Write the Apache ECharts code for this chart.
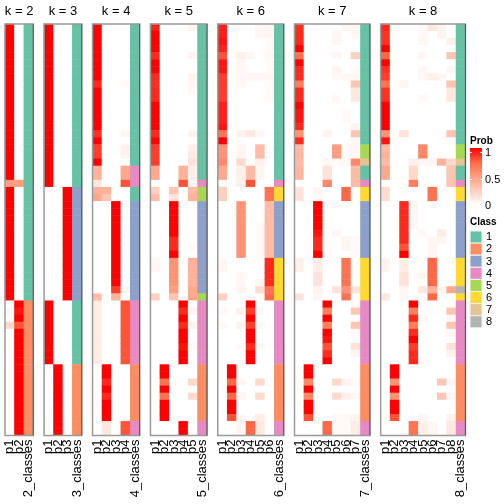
<!DOCTYPE html>
<html><head><meta charset="utf-8">
<script src="https://cdn.jsdelivr.net/npm/echarts@6/dist/echarts.min.js"></script>
<style>html,body{margin:0;padding:0;background:#fff}#c{width:504px;height:504px}</style>
</head><body><div id="c"></div>
<script>
const kList = [2,3,4,5,6,7,8];
const classColors = ['#66C2A5','#FC8D62','#8DA0CB','#E78AC3','#A6D854','#FFD92F','#E5C494','#B3B3B3'];
const classNames = ['1','2','3','4','5','6','7','8'];
const probTicks = [1, 0.5, 0];
const probTickLabels = ['1','0.5','0'];

// ---- k = 2 ----
const k2_class = [1,1,1,1,1,1,1,1,1,1, 1,1,1,1,1,1,1,1,1,1, 1,1,1,1,1,1,1,1,1,1, 1,1,1,1,1,1,1,1,1,2, 2,2,2,2,2,2,2,2,2,2, 2,2,2,2,2,2,2,2];
const k2_p1 = [1,1,1,1,1,1,1,1,1,1, 1,1,1,1,1,1,1,1,1,1, 1,1,0.5,1,1,1,1,1,1,1, 1,1,1,1,1,1,1,1,1,0, 0.03,0,0.2,0,0,0,0,0,0,0, 0,0,0,0,0,0,0,0];
const k2_p2 = [0,0,0,0,0,0,0,0,0,0, 0,0,0,0,0,0,0,0,0,0, 0,0,0.5,0,0,0,0,0,0,0, 0,0,0,0,0,0,0,0,0,1, 0.95,1,0.8,1,1,1,1,1,1,1, 1,1,1,1,1,1,1,1];

// ---- k = 3 ----
const k3_class = [1,1,1,1,1,1,1,1,1,1, 1,1,1,1,1,1,1,1,1,1, 1,1,1,3,3,3,3,3,3,3, 3,3,3,3,3,3,3,3,3,1, 1,1,1,1,1,1,1,1,2,2, 2,2,2,2,2,2,2,2];
const k3_p1 = [1,1,1,1,1,1,1,1,1,1, 1,1,1,1,1,1,1,1,1,1, 1,1,1,0,0,0,0,0,0,0, 0,0,0,0,0,0,0,0,0,1, 1,1,1,1,1,1,1,1,0,0, 0,0,0,0,0,0,0,0];
const k3_p2 = [0,0,0,0,0,0,0,0,0,0, 0,0,0,0,0,0,0,0,0,0, 0,0,0,0,0,0,0,0,0,0, 0,0,0,0,0,0,0,0,0,0, 0,0,0,0,0,0,0,0,1,1, 1,1,1,1,1,1,1,1];
const k3_p3 = [0,0,0,0,0,0,0,0,0,0, 0,0,0,0,0,0,0,0,0,0, 0,0,0,1,1,1,1,1,1,1, 1,1,1,1,1,1,1,1,1,0, 0,0,0,0,0,0,0,0,0,0, 0,0,0,0,0,0,0,0];

// ---- k = 4 ----
const k4_class = [1,1,1,1,1,1,1,1,1,1, 1,1,1,1,1,1,1,1,1,1, 4,4,4,1,1,3,3,3,3,3, 3,3,3,3,3,3,3,3,3,4, 4,4,4,4,4,4,4,4,2,2, 2,2,2,2,2,2,4,4];
const k4_p1 = [1,1,1,1,1,1,1,1,0.9,1, 1,1,1,1,1,0.88,1,0.85,0.85,1, 0.4,0.4,0.12,0.4,0.45,0,0,0,0,0, 0,0,0,0,0,0,0,0,0.35,0.1, 0.1,0.1,0.1,0.1,0.1,0.1,0.1,0.1,0,0, 0,0,0,0,0,0,0,0];
const k4_p2 = [0,0,0,0,0,0,0,0,0,0, 0,0,0,0,0,0,0,0,0,0, 0,0,0,0.4,0.3,0,0,0,0,0, 0,0,0,0,0,0,0,0,0,0, 0,0,0,0,0,0,0,0,1,1, 0.9,1,0.9,1,1,1,0.12,0.12];
const k4_p3 = [0,0,0,0,0,0,0,0,0,0, 0,0,0,0,0,0,0,0,0,0, 0,0,0,0,0,1,1,1,1,1, 1,1,1,1,1,1,1,0.85,0.4,0, 0,0,0,0,0,0,0,0,0,0, 0,0,0,0,0,0,0,0];
const k4_p4 = [0,0,0,0,0,0,0,0,0.03,0, 0,0,0,0,0,0.05,0,0.06,0.06,0, 0.45,0.45,0.8,0,0,0,0,0,0,0, 0,0,0,0,0,0,0,0.05,0,0.8, 0.8,0.8,0.8,0.8,0.8,0.8,0.8,0.8,0,0, 0,0,0,0,0,0,0.8,0.8];

// ---- k = 5 ----
const k5_class = [1,1,1,1,1,1,1,1,1,1, 1,1,1,1,1,1,1,1,1,1, 1,1,4,5,5,3,3,3,3,3, 3,3,3,3,3,3,3,3,5,4, 4,4,4,4,4,4,4,4,2,2, 2,2,2,2,2,2,4,4];
const k5_p1 = [0.92,1,1,1,0.9,1,1,0.9,0.88,0.9, 0.9,1,1,1,1,0.9,1,0.85,0.85,0.85, 0.45,0.45,0,0.25,0.35,0,0,0,0,0, 0,0,0,0.04,0.04,0,0,0,0.25,0, 0,0,0,0,0,0,0,0,0,0, 0,0,0,0,0,0,0,0];
const k5_p2 = [0,0,0,0,0,0,0,0,0,0, 0,0,0,0,0,0,0,0,0,0, 0,0,0,0,0,0,0,0,0,0, 0,0,0,0,0,0,0,0,0,0, 0,0,0,0,0,0,0,0,1,1, 0.7,1,0.7,1,1,1,0,0];
const k5_p3 = [0,0,0,0,0,0,0,0,0,0, 0,0,0,0,0,0,0,0,0,0, 0,0,0,0.3,0.15,1,1,1,1,1, 0.9,0.9,1,0.55,0.55,0.55,0.55,0.5,0.3,0, 0,0,0,0,0,0,0,0,0,0, 0,0,0,0,0,0,0,0];
const k5_p4 = [0,0,0,0,0,0,0,0,0,0, 0,0,0,0,0,0,0,0,0,0, 0.4,0.4,0.8,0,0,0,0,0,0,0, 0,0,0,0,0,0,0,0,0,1, 0.9,1,0.9,1,1,0.95,1,1,0,0, 0,0,0,0,0,0,1,1];
const k5_p5 = [0.05,0,0,0,0.05,0,0,0.06,0.04,0.03, 0,0,0,0,0,0.06,0,0.08,0.1,0.15, 0.08,0.08,0.05,0.35,0.4,0,0,0,0,0, 0,0.03,0,0.4,0.4,0.4,0.4,0.45,0.45,0, 0.06,0,0.06,0,0,0.02,0,0,0,0, 0.2,0,0.2,0,0,0,0,0];

// ---- k = 6 ----
const k6_class = [1,1,1,1,1,1,1,1,1,1, 1,1,1,1,1,1,1,1,1,1, 1,1,4,6,6,3,3,3,3,3, 3,3,3,6,6,6,6,6,6,4, 4,4,4,4,4,4,4,4,2,2, 2,2,2,2,2,2,4,4];
const k6_p1 = [0.92,0.92,0.95,0.92,0.8,0.95,0.95,0.85,0.85,0.85, 0.85,0.92,0.92,0.92,0.95,0.7,1,0.55,0.55,0.6, 0.45,0.45,0.03,0.25,0.25,0,0,0,0,0, 0,0,0,0.04,0.04,0,0,0,0.25,0, 0.03,0,0.03,0,0,0,0,0,0,0, 0,0,0,0,0,0,0,0];
const k6_p2 = [0,0,0,0,0,0,0,0,0,0, 0,0,0,0,0,0,0,0,0,0, 0,0,0,0,0,0,0,0,0,0, 0,0,0,0,0,0,0,0,0,0, 0,0,0,0,0,0,0,0,1,1, 0.75,1,0.75,1,1,0.8,0,0];
const k6_p3 = [0,0,0,0,0.08,0.04,0.04,0.04,0.04,0, 0,0,0,0,0,0.06,0,0.05,0.05,0.2, 0.08,0.08,0.08,0,0,0.55,0.55,0.55,0.55,0.55, 0.55,0.55,0.55,0,0,0.04,0.04,0.06,0,0, 0.07,0,0.07,0,0,0.03,0,0,0,0, 0.05,0,0.05,0,0,0.04,0.05,0.05];
const k6_p4 = [0,0,0,0,0.04,0,0,0.04,0,0, 0,0,0,0,0,0.12,0,0,0,0, 0.35,0.35,0.8,0,0,0,0,0,0,0, 0,0,0,0,0,0,0,0,0,1, 0.85,1,0.85,1,1,0.9,1,1,0,0, 0,0,0,0,0,0,0.75,0.75];
const k6_p5 = [0.04,0.04,0,0,0,0,0,0.05,0,0, 0,0,0,0,0,0.04,0,0.35,0.35,0.08, 0.05,0.05,0,0,0,0,0,0,0.03,0.03, 0.03,0.03,0.03,0,0,0,0.05,0.18,0,0, 0.04,0,0.04,0,0,0.04,0,0,0,0, 0.2,0,0.2,0,0,0.1,0.12,0.12];
const k6_p6 = [0.05,0.05,0.03,0.03,0.04,0.03,0.03,0.04,0.03,0.03, 0.03,0,0,0,0,0,0,0,0,0, 0,0,0,0.7,0.7,0.35,0.35,0.35,0.35,0.35, 0.35,0.35,0.35,0.9,0.9,0.9,0.9,0.7,0.75,0, 0,0,0,0,0,0,0,0,0,0, 0,0,0,0,0,0,0,0];

// ---- k = 7 ----
const k7_class = [1,1,1,1,1,1,1,1,1,1, 1,1,1,1,1,1,1,5,5,7, 1,1,4,6,6,3,3,3,3,3, 3,3,3,6,6,6,6,6,6,4, 4,4,4,4,4,4,4,4,2,2, 2,2,2,2,2,2,4,4];
const k7_p1 = [0.88,0.9,0.9,1,0.7,1,0.9,0.9,0.65,0.9, 0.9,1,0.95,0.95,0.9,0.55,0.9,0.35,0.38,0.35, 0.38,0.38,0,0.15,0.15,0,0,0,0,0, 0,0,0,0.08,0.08,0,0,0,0.15,0, 0,0,0,0,0,0,0,0,0,0, 0,0,0,0,0,0,0,0];
const k7_p2 = [0,0,0,0,0,0,0,0,0,0, 0,0,0,0,0,0,0,0,0,0, 0,0,0,0,0,0,0,0,0,0, 0,0,0,0,0,0,0,0,0,0, 0,0,0,0,0,0,0,0,1,1, 0.6,1,0.6,1,1,0.8,0,0];
const k7_p3 = [0,0,0,0,0,0,0,0,0,0, 0,0,0,0,0,0,0,0,0,0, 0,0,0,0.05,0.03,1,1,1,1,0.95, 0.9,0.9,1,0.1,0.1,0.15,0.15,0.06,0.04,0, 0,0,0,0,0,0,0,0,0,0, 0,0,0,0,0,0,0,0];
const k7_p4 = [0,0,0,0,0,0,0,0,0,0, 0,0,0,0,0,0.06,0,0,0,0.04, 0.15,0.15,0.6,0,0,0,0,0,0,0, 0,0,0,0,0,0,0,0,0,1, 0.65,1,0.65,1,0.95,0.8,0.9,1,0,0, 0,0,0,0,0,0,0.75,0.75];
const k7_p5 = [0,0.04,0.05,0,0.04,0,0.05,0.03,0,0, 0.03,0,0,0,0,0,0,0.5,0.5,0.03, 0,0,0,0,0,0.03,0,0,0,0.04, 0,0,0,0,0,0,0,0.15,0,0, 0,0,0,0,0,0,0,0,0,0, 0.2,0,0.2,0,0,0.03,0.03,0.03];
const k7_p6 = [0.05,0,0,0,0,0,0,0.04,0,0, 0,0,0.03,0.03,0,0,0,0.03,0.03,0.04, 0,0,0,0.75,0.75,0,0,0,0,0, 0.05,0.05,0,0.7,0.7,0.7,0.7,0.55,0.7,0, 0,0,0,0,0,0,0,0,0,0, 0.06,0,0.08,0,0,0.03,0.03,0.03];
const k7_p7 = [0.05,0.04,0,0,0.25,0,0.03,0.04,0.3,0.12, 0.12,0,0,0,0.05,0.3,0.04,0.04,0.04,0.6, 0.35,0.35,0.35,0,0,0,0,0,0,0, 0.03,0.03,0.03,0,0,0,0,0.15,0,0.03, 0.3,0,0.3,0.03,0,0.15,0.05,0,0,0, 0.03,0,0.04,0,0,0.06,0.1,0.1];

// ---- k = 8 ----
const k8_class = [1,1,1,1,1,1,1,1,1,1, 1,1,1,1,1,1,1,5,5,7, 1,1,4,6,6,3,3,3,3,3, 3,3,3,6,6,6,6,8,6,4, 4,4,4,4,4,4,4,4,2,2, 2,2,2,2,2,2,4,4];
const k8_p1 = [0.9,0.88,0.88,1,0.75,1,0.88,0.85,0.7,0.88, 0.88,1,1,1,1,0.55,0.95,0.35,0.4,0.35, 0.45,0.45,0,0.18,0.18,0,0,0,0,0, 0,0,0,0.06,0.06,0,0,0,0.12,0, 0,0,0,0,0,0,0,0,0,0, 0,0,0,0,0,0,0,0];
const k8_p2 = [0,0,0,0,0,0,0,0,0,0, 0,0,0,0,0,0,0,0,0,0, 0,0,0,0,0,0,0,0,0,0, 0,0,0,0,0,0,0,0,0,0, 0,0,0,0,0,0,0,0,1,1, 0.55,1,0.55,1,1,0.8,0,0];
const k8_p3 = [0,0,0,0,0,0,0,0,0.05,0, 0,0,0,0,0,0.15,0,0,0,0, 0,0,0,0.03,0,0.9,0.9,0.9,0.9,0.9, 0.9,0.8,1,0.1,0.1,0.15,0.15,0.04,0.03,0, 0,0,0,0,0,0,0,0,0,0, 0,0,0,0,0,0,0,0];
const k8_p4 = [0,0,0,0,0,0,0,0,0,0, 0,0,0,0,0,0,0,0,0,0.08, 0.2,0.2,0.65,0,0,0.04,0.04,0.04,0.04,0, 0,0,0,0,0,0,0,0,0,1, 0.65,0.9,0.65,0.9,1,0.85,0.9,0.9,0,0, 0,0,0,0,0,0,0.7,0.7];
const k8_p5 = [0.03,0.03,0.04,0,0.04,0,0.04,0.04,0,0, 0.03,0,0,0,0,0,0,0.6,0.6,0.04, 0,0,0,0,0,0,0,0,0,0.03, 0,0,0,0,0,0.05,0,0.12,0,0, 0,0.03,0,0,0,0,0,0.03,0,0, 0,0,0,0,0,0.04,0.08,0.08];
const k8_p6 = [0.12,0,0,0,0,0,0,0.08,0,0, 0,0,0,0,0,0,0,0,0,0.05, 0,0,0,0.7,0.7,0,0,0,0,0, 0.05,0.05,0.04,0.75,0.75,0.75,0.75,0.4,0.75,0, 0,0,0,0,0,0,0,0,0,0, 0,0,0,0,0,0,0.04,0.04];
const k8_p7 = [0.06,0.06,0,0,0,0,0,0.05,0,0, 0,0,0,0,0,0,0,0,0,0.4, 0,0,0,0,0,0,0,0,0,0.1, 0.05,0,0,0,0,0,0,0.05,0,0, 0,0,0,0,0,0,0,0,0,0, 0.3,0,0.3,0,0,0,0,0];
const k8_p8 = [0,0,0.08,0,0.3,0,0.04,0,0.3,0.12, 0.12,0,0,0,0,0.3,0.02,0,0,0.2, 0.3,0.3,0.3,0,0,0,0,0,0,0, 0,0,0,0,0,0,0,0.45,0,0, 0.3,0.04,0.3,0.04,0,0.15,0.06,0,0,0, 0.04,0,0.04,0,0,0.06,0.12,0.12];

const panels = [
  {k:2, probs:[k2_p1,k2_p2], cls:k2_class},
  {k:3, probs:[k3_p1,k3_p2,k3_p3], cls:k3_class},
  {k:4, probs:[k4_p1,k4_p2,k4_p3,k4_p4], cls:k4_class},
  {k:5, probs:[k5_p1,k5_p2,k5_p3,k5_p4,k5_p5], cls:k5_class},
  {k:6, probs:[k6_p1,k6_p2,k6_p3,k6_p4,k6_p5,k6_p6], cls:k6_class},
  {k:7, probs:[k7_p1,k7_p2,k7_p3,k7_p4,k7_p5,k7_p6,k7_p7], cls:k7_class},
  {k:8, probs:[k8_p1,k8_p2,k8_p3,k8_p4,k8_p5,k8_p6,k8_p7,k8_p8], cls:k8_class}
];

// layout
const COLW = 9.42, GAP = 10.8, X0 = 5, TOP = 24, H = 411.5;
const FONT = 'Liberation Sans, Arial, Helvetica, sans-serif';
const nRows = k2_class.length;
const rowIds = k2_class.map((_, i) => 'r' + (i + 1));

const grids = [], xAxes = [], yAxes = [], series = [], graphics = [];
const probIdx = [], clsIdx = [];
let x = X0;
panels.forEach((p, i) => {
  const w = (p.k + 1) * COLW;
  grids.push({left: x, top: TOP, width: w, height: H, containLabel: false});
  const cats = p.probs.map((_, j) => 'p' + (j + 1)).concat([p.k + '_classes']);
  xAxes.push({type: 'category', gridIndex: i, data: cats,
    axisLine: {show: false}, axisTick: {show: false}, splitLine: {show: false},
    axisLabel: {rotate: 90, interval: 0, fontSize: 13, color: '#000', margin: 4, fontFamily: FONT}});
  yAxes.push({type: 'category', gridIndex: i, data: rowIds, inverse: true, show: false});
  const pd = [];
  p.probs.forEach((col, j) => col.forEach((v, r) => pd.push([j, r, v])));
  probIdx.push(series.length);
  series.push({type: 'heatmap', xAxisIndex: i, yAxisIndex: i, data: pd,
    itemStyle: {borderWidth: 0}, emphasis: {disabled: true}, progressive: 0});
  const cd = p.cls.map((c, r) => [p.k, r, c]);
  clsIdx.push(series.length);
  series.push({type: 'heatmap', xAxisIndex: i, yAxisIndex: i, data: cd,
    itemStyle: {borderWidth: 0}, emphasis: {disabled: true}, progressive: 0});
  graphics.push({type: 'text', x: x + w / 2, y: 11, z: 100,
    style: {text: 'k = ' + p.k, fill: '#000', font: '13px ' + FONT, textAlign: 'center', textVerticalAlign: 'middle'}});
  graphics.push({type: 'rect', z: 100, shape: {x: x, y: TOP, width: w, height: H},
    style: {fill: null, stroke: '#9a9a9a', lineWidth: 1.5}});
  graphics.push({type: 'line', z: 101, shape: {x1: x + w, y1: TOP, x2: x + w, y2: TOP + H},
    style: {stroke: '#555', lineWidth: 1}});
  x += w + GAP;
});

// legend: Prob
const LX = 470;
graphics.push({type: 'text', x: LX, y: 141, style: {text: 'Prob', fill: '#000', font: 'bold 10px ' + FONT, textVerticalAlign: 'middle'}});
const barTop = 148, barH = 57;
graphics.push({type: 'rect', shape: {x: LX, y: barTop, width: 12, height: barH},
  style: {fill: new echarts.graphic.LinearGradient(0, 0, 0, 1, [
    {offset: 0, color: '#FF0000'}, {offset: 0.25, color: '#FF6846'}, {offset: 0.5, color: '#FF9E81'},
    {offset: 0.75, color: '#FFCFBF'}, {offset: 1, color: '#FFFFFF'}])}});
const tickY = [152.5, 179.5, 206];
probTickLabels.forEach((t, j) => {
  graphics.push({type: 'text', x: LX + 15, y: tickY[j], style: {text: t, fill: '#000', font: '11px ' + FONT, textVerticalAlign: 'middle'}});
  if (j < 2) {
    graphics.push({type: 'line', shape: {x1: LX, y1: tickY[j], x2: LX + 2, y2: tickY[j]}, style: {stroke: '#fff', lineWidth: 1}});
    graphics.push({type: 'line', shape: {x1: LX + 10, y1: tickY[j], x2: LX + 12, y2: tickY[j]}, style: {stroke: '#fff', lineWidth: 1}});
  }
});
// legend: Class
graphics.push({type: 'text', x: LX, y: 222, style: {text: 'Class', fill: '#000', font: 'bold 10px ' + FONT, textVerticalAlign: 'middle'}});
classNames.forEach((n, j) => {
  const yy = 231 + 12.1 * j;
  graphics.push({type: 'rect', shape: {x: LX, y: yy, width: 12, height: 12.1},
    style: {fill: classColors[j], stroke: '#f2f2f2', lineWidth: 1}});
  graphics.push({type: 'text', x: LX + 16, y: yy + 6.3, style: {text: n, fill: '#000', font: '11px ' + FONT, textVerticalAlign: 'middle'}});
});

const chart = echarts.init(document.getElementById('c'), null, {renderer: 'canvas'});
chart.setOption({
  animation: false,
  backgroundColor: '#fff',
  grid: grids, xAxis: xAxes, yAxis: yAxes, series: series,
  visualMap: [
    {type: 'continuous', show: false, min: 0, max: 1, dimension: 2, seriesIndex: probIdx,
     inRange: {color: ['#FFFFFF', '#FFCFBF', '#FF9E81', '#FF6846', '#FF0000']}},
    {type: 'piecewise', show: false, dimension: 2, seriesIndex: clsIdx,
     pieces: classColors.map((c, j) => ({value: j + 1, color: c}))}
  ],
  graphic: graphics
});
</script></body></html>
